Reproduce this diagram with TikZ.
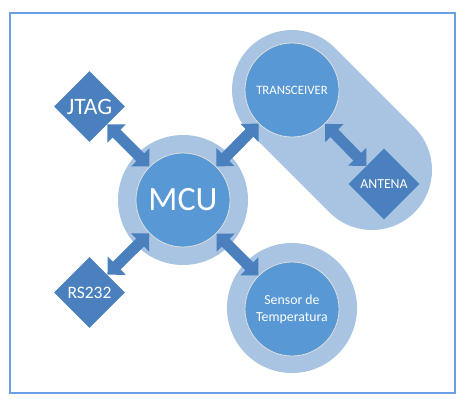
\documentclass[tikz,border=0pt]{standalone}
\usepackage{fontspec}
\setmainfont{Carlito}
\usetikzlibrary{shapes.geometric,arrows.meta}
\definecolor{azulclaro}{RGB}{168,196,226}
\definecolor{azul}{RGB}{88,152,212}
\definecolor{azulescuro}{RGB}{74,128,190}
\definecolor{moldura}{RGB}{105,160,228}
\begin{document}
\begin{tikzpicture}[x=1pt, y=-1pt,
    halo/.style={circle, fill=azulclaro, minimum size=130pt, inner sep=0pt},
    bloco/.style={circle, fill=azul, draw=gray!25, line width=0.8pt, minimum size=94pt, inner sep=0pt, text=white, align=center},
    losango/.style={diamond, fill=azulescuro, minimum width=71pt, minimum height=71pt, inner sep=0pt, text=white},
    seta/.style={azulescuro, line width=11pt, {Triangle[width=25pt,length=13pt]}-{Triangle[width=25pt,length=13pt]}}]
    \useasboundingbox (0,0) rectangle (473,405);
    \draw[moldura, line width=1.5pt] (10,13) rectangle (455,393); % moldura

    % fundos
    \coordinate (c1) at (292,90);
    \coordinate (c2) at (372,170);
    \draw[azulclaro, line width=120pt, line cap=round] (c1) -- (c2); % radio
    \node[halo] (hMCU) at (183,200) {};
    \node[halo] (hSensor) at (292,308) {};

    % blocos
    \node[bloco, font=\fontsize{34}{34}\selectfont] (MCU) at (183,200) {MCU};
    \node[bloco, font=\fontsize{12.8}{15}\selectfont] (TR) at (292,90) {TRANSCEIVER};
    \node[bloco, font=\fontsize{13.8}{17}\selectfont] (S) at (292,309) {Sensor de\\Temperatura};
    \node[losango, font=\fontsize{23.5}{23.5}\selectfont] (J) at (89.5,106.5) {JTAG};
    \node[losango, font=\fontsize{17.5}{17.5}\selectfont] (R) at (89.5,292.5) {RS232};
    \node[losango, font=\fontsize{13.8}{13.8}\selectfont] (A) at (384,184) {ANTENA};

    % ligacoes
    \draw[seta] (J) -- (MCU);
    \draw[seta] (R) -- (MCU);
    \draw[seta] (MCU) -- (TR);
    \draw[seta] (MCU) -- (S);
    \draw[seta] (TR) -- (A);
\end{tikzpicture}
\end{document}
